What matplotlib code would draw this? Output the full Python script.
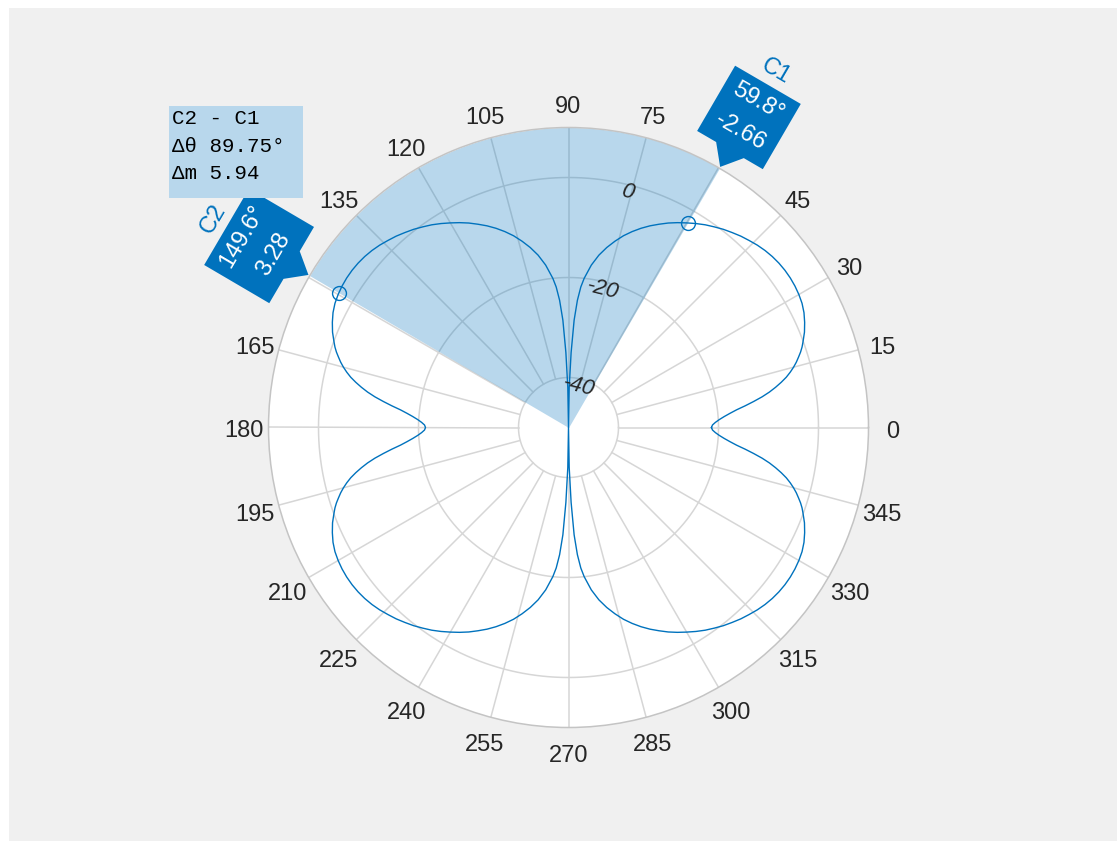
import numpy as np
import matplotlib
matplotlib.use("Agg")
import matplotlib.pyplot as plt
from matplotlib.patches import Polygon, Rectangle
from matplotlib.transforms import Affine2D, ScaledTranslation, offset_copy

# pattern in the first quadrant (deg, dB), the rest follows by symmetry
quad_angles = [0, 1, 2, 3, 4, 5, 6, 7, 8, 9, 10, 11, 12, 13, 14, 15, 16, 17,
               18, 19, 20, 22, 24, 26, 28, 30, 32, 34, 36, 38, 40, 42, 44, 46,
               48, 50, 52, 54, 56, 58, 60, 62, 64, 66, 68, 70, 72, 74, 76, 78,
               80, 82, 84, 85, 86, 87, 88, 89, 90]
quad_mag = [-21.4, -21.2, -20.6, -19.8, -18.8, -17.6, -16.2, -14.4, -12.6,
            -10.8, -9.2, -7.8, -6.5, -5.3, -4.3, -3.4, -2.6, -1.9, -1.2, -0.6,
            -0.1, 0.9, 1.7, 2.4, 2.9, 3.2, 3.4, 3.5, 3.5, 3.4, 3.2, 2.9, 2.5,
            2.0, 1.5, 0.9, 0.3, -0.4, -1.1, -1.9, -2.75, -3.6, -4.5, -5.5,
            -6.5, -7.6, -8.8, -10.1, -11.6, -13.2, -15.0, -17.2, -20.0, -21.8,
            -24.5, -28.5, -35.0, -42.0, -60.0]

ring_values = [-40, -20, 0]
mag_lim = [-50, 10]
angle_ticks = list(range(0, 360, 15))

cursor_names = ["C1", "C2"]
cursor_angles = [59.8, 149.6]
cursor_mags = [-2.66, 3.28]
delta_theta = 89.75

BLUE = "#0072BD"
GRID = "#d6d6d6"
TXT = "#262626"
W, H = 1117, 842

# build full pattern
qa = np.array(quad_angles, float)
qm = np.array(quad_mag, float)
ang = np.concatenate([qa, 180 - qa[::-1], 180 + qa, 360 - qa[::-1]])
mag = np.concatenate([qm, qm[::-1], qm, qm[::-1]])
mag = np.clip(mag, mag_lim[0], None)

fig = plt.figure(figsize=(W / 100, H / 100), dpi=100)
fig.patch.set_facecolor("white")
fig.add_artist(Rectangle((9 / W, 1 / H), (W - 9) / W, 833 / H,
                         transform=fig.transFigure, fc="#f0f0f0", ec="none", zorder=-5))

cx, cy, R = 568.5, 427.5, 300
ax = fig.add_axes([(cx - R) / W, (H - cy - R) / H, 2 * R / W, 2 * R / H], projection="polar")
ax.set_facecolor("white")
ax.set_ylim(*mag_lim)
ax.set_xticks([])
ax.set_yticks([])
ax.grid(False)
ax.spines["polar"].set_color("#c4c4c4")
ax.spines["polar"].set_linewidth(1.1)

# rings and spokes
full = np.linspace(0, 2 * np.pi, 721)
for rv in ring_values:
    ax.plot(full, np.full_like(full, rv), color=GRID, lw=1.1, zorder=1)
label_tr = offset_copy(ax.transData, fig=fig, x=0, y=-4, units="dots")
for a in angle_ticks:
    t = np.deg2rad(a)
    ax.plot([t, t], [ring_values[0], mag_lim[1]], color=GRID, lw=1.1, zorder=1)
    # labels under a cursor callout are hidden
    if min(abs((a - c + 180) % 360 - 180) for c in cursor_angles) < 5:
        continue
    ax.text(t, mag_lim[1] + 4.9, str(a), ha="center", va="center", transform=label_tr,
            fontsize=17, color=TXT, family="Liberation Sans", clip_on=False)

for rv in ring_values:
    ax.text(np.deg2rad(76), rv - 1.5, str(rv), ha="center", va="center",
            fontsize=16, style="italic", color=TXT, rotation=-14,
            family="Liberation Sans", zorder=6)

# span between the cursors
span = np.deg2rad(np.linspace(cursor_angles[0], cursor_angles[1], 200))
ax.fill_between(span, mag_lim[0], mag_lim[1], color=BLUE, alpha=0.28, lw=0, zorder=2)

ax.plot(np.deg2rad(ang), mag, color=BLUE, lw=1.0, zorder=4)
ax.plot(np.deg2rad(cursor_angles), cursor_mags, "o", mfc="none", mec=BLUE,
        ms=10, mew=1.0, zorder=5)

# cursor callouts
for name, ca, cm in zip(cursor_names, cursor_angles, cursor_mags):
    s1 = f"{ca:.1f}°"
    s2 = f"{cm:.2f}"
    hw = 7 + 6.2 * max(len(s1), len(s2))
    tr = Affine2D().rotate_deg(ca - 90) + ScaledTranslation(np.deg2rad(ca), mag_lim[1] + 0.3, ax.transData)
    verts = [(-hw, 19.5), (-16, 19.5), (0, 0), (16, 19.5), (hw, 19.5), (hw, 95), (-hw, 95)]
    ax.add_patch(Polygon(verts, closed=True, transform=tr, fc=BLUE, ec="none",
                         clip_on=False, zorder=7))
    for v, s in [(76, s1), (41, s2)]:
        ax.text(0, v, s, transform=tr, rotation=ca - 90, rotation_mode="anchor",
                ha="center", va="center", color="white", fontsize=17,
                family="Liberation Sans", clip_on=False, zorder=8)
    ax.text(0, 110, name, transform=tr, rotation=ca - 90, rotation_mode="anchor",
            ha="center", va="center", color=BLUE, fontsize=17,
            family="Liberation Sans", clip_on=False, zorder=8)

# delta readout box
fig.add_artist(Rectangle((169 / W, (H - 198) / H), 134 / W, 92 / H,
                         transform=fig.transFigure, fc="#b8d7ec", ec="none", zorder=3))
delta_m = cursor_mags[1] - cursor_mags[0]
lines = [f"{cursor_names[1]} - {cursor_names[0]}", f"Δθ {delta_theta:.2f}°", f"Δm {delta_m:.2f}"]
for i, s in enumerate(lines):
    fig.text(172 / W, 1 - (118.5 + 27.7 * i) / H, s, ha="left", va="center",
             fontsize=15, family="Liberation Mono", color="black", zorder=4)

fig.savefig("out.png", dpi=100)
